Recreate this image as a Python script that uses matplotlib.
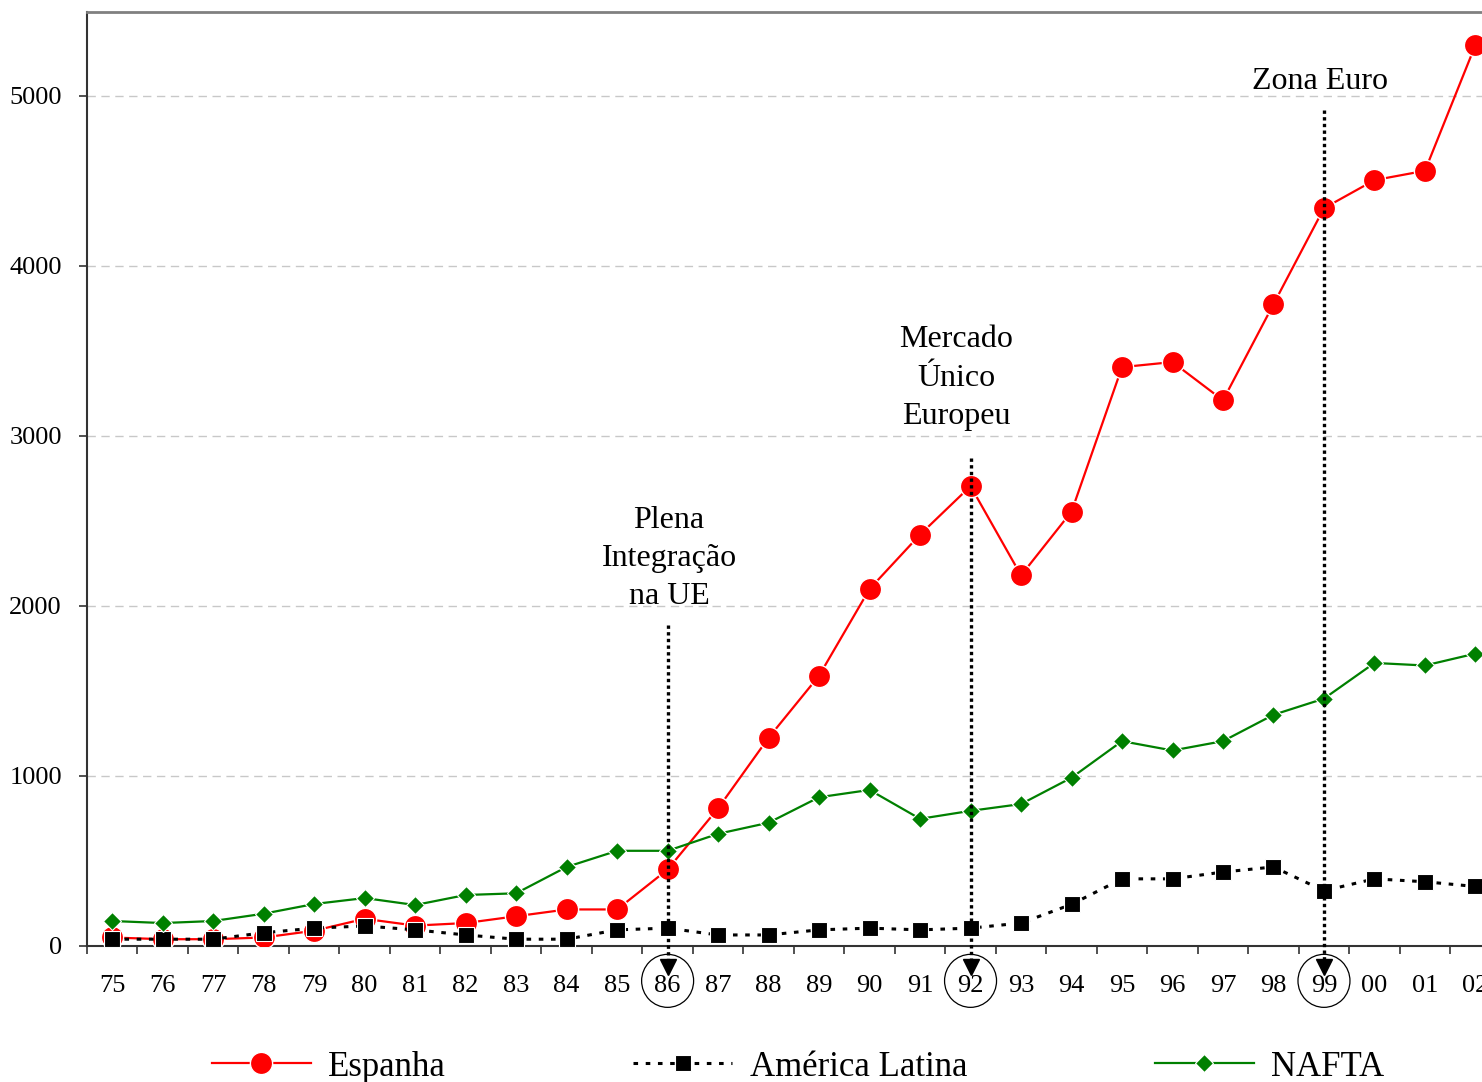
import matplotlib.pyplot as plt
from matplotlib.patches import Ellipse

plt.rcParams['font.family'] = ['Liberation Serif', 'DejaVu Serif']

# Anos (dois dígitos) e séries
anos = ['75', '76', '77', '78', '79', '80', '81', '82', '83', '84', '85', '86', '87', '88',
        '89', '90', '91', '92', '93', '94', '95', '96', '97', '98', '99', '00', '01', '02']

espanha = [50, 40, 40, 50, 90, 160, 120, 135, 175, 215, 215, 450, 810, 1225,
           1590, 2100, 2420, 2705, 2180, 2555, 3405, 3435, 3210, 3775, 4340, 4505, 4560, 5300]

america_latina = [40, 40, 40, 78, 105, 118, 95, 65, 40, 40, 95, 105, 65, 65,
                  95, 105, 95, 105, 135, 245, 395, 395, 435, 465, 325, 395, 378, 350]

nafta = [147, 135, 147, 190, 247, 282, 241, 300, 310, 465, 560, 560, 660, 725,
         875, 918, 748, 795, 835, 990, 1205, 1150, 1205, 1360, 1455, 1665, 1650, 1720]

# Marcos históricos: ano, texto, topo da seta
marcos_ano = ['86', '92', '99']
marcos_texto = ['Plena\nIntegração\nna UE', 'Mercado\nÚnico\nEuropeu', 'Zona Euro']
marcos_topo = [1888, 2870, 4918]

# posição dos textos (deslocamento em x, altura em y)
texto_dx = [0.03, -0.28, -0.08]
texto_y = [2280, 3340, 5085]

x = list(range(len(anos)))

fig = plt.figure(figsize=(14.82, 10.82), dpi=100)
ax = fig.add_axes([87 / 1482, 1 - 946 / 1082, 1 - 87 / 1482, (946 - 12) / 1082])

ax.plot(x, espanha, color='#ff0000', lw=1.6, marker='o', ms=16,
        markerfacecolor='#ff0000', markeredgecolor='white', markeredgewidth=1,
        label='Espanha', zorder=3)
ax.plot(x, america_latina, color='black', lw=2.2, ls=(0, (1.5, 2.5)), marker='s', ms=12,
        markerfacecolor='black', markeredgecolor='white', markeredgewidth=0.8,
        label='América Latina', zorder=4)
ax.plot(x, nafta, color='#008000', lw=1.6, marker='D', ms=9,
        markerfacecolor='#008000', markeredgecolor='white', markeredgewidth=0.8,
        label='NAFTA', zorder=5)

# eixo x: marcas nas fronteiras das categorias, rótulos nos centros
ax.set_xticks([i - 0.5 for i in range(len(anos))])
ax.set_xticklabels([])
ax.set_xticks(x, minor=True)
ax.set_xticklabels(anos, minor=True, fontsize=19)
ax.tick_params(axis='x', which='major', direction='out', length=6, width=1.2, color='#333333')
ax.tick_params(axis='x', which='minor', length=0, pad=21)

ax.set_yticks([0, 1000, 2000, 3000, 4000, 5000])
ax.set_yticklabels(['0', '1000', '2000', '3000', '4000', '5000'], fontsize=19)
ax.tick_params(axis='y', direction='out', length=6, width=1.2, color='#333333', pad=12)

ax.set_xlim(-0.5, 27.13)
ax.set_ylim(0, 5494)

ax.grid(axis='y', color='#c8c8c8', ls=(0, (6, 4)), lw=1)
ax.set_axisbelow(True)
ax.spines['left'].set_color('#333333')
ax.spines['left'].set_linewidth(1.5)
ax.spines['bottom'].set_color('#333333')
ax.spines['bottom'].set_linewidth(1.5)
ax.spines['top'].set_color('#808080')
ax.spines['top'].set_linewidth(2)
ax.spines['right'].set_visible(False)

# setas pontilhadas e círculos nos anos marcantes
for ano, texto, topo, dx, ty in zip(marcos_ano, marcos_texto, marcos_topo, texto_dx, texto_y):
    i = anos.index(ano)
    ax.plot([i, i], [topo, -120], color='black', lw=2.4, ls=(0, (1, 1)),
            clip_on=False, zorder=6)
    ax.plot([i], [-125], marker='v', ms=11, color='black', clip_on=False, zorder=6)
    ax.add_patch(Ellipse((i, -205), 52 / 50.5, 53 / 0.17, fill=False, lw=0.9,
                         edgecolor='black', clip_on=False, zorder=6))
    ax.text(i + dx, ty, texto, ha='center', va='center', fontsize=23,
            linespacing=1.42, zorder=7)

fig.legend(loc='center', bbox_to_anchor=(798 / 1482, 1 - 1067 / 1082), ncol=3,
           frameon=False, fontsize=25, handlelength=2.85, handletextpad=0.5,
           columnspacing=5.4, borderpad=0)

fig.savefig('out.png', dpi=100)
